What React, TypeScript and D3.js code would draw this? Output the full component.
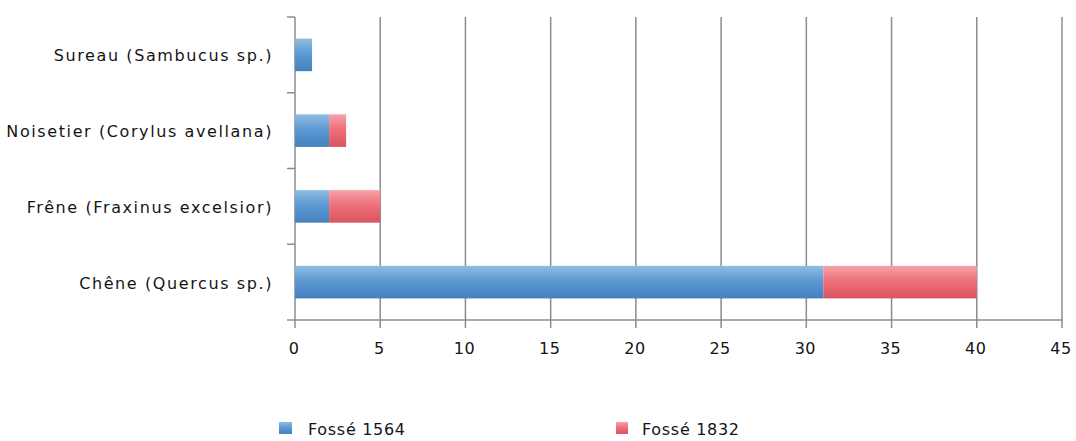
import React from "react";
import * as d3 from "d3";

// Charcoal fragment counts per taxon in the two ditches
const categories = [
  "Sureau (Sambucus sp.)",
  "Noisetier (Corylus avellana)",
  "Frêne (Fraxinus excelsior)",
  "Chêne (Quercus sp.)",
];
const fosse1564 = [1, 2, 2, 31];
const fosse1832 = [0, 1, 3, 9];
const seriesNames = ["Fossé 1564", "Fossé 1832"];
const xTicks = [0, 5, 10, 15, 20, 25, 30, 35, 40, 45];

const W = 1076;
const H = 441;
const FONT = "'DejaVu Sans', sans-serif";
const GRID = "#8c8c8c";
const TEXT = "#151515";

export default function App() {
  const x = d3.scaleLinear().domain([0, 45]).range([295, 1062]);
  const y = d3
    .scaleBand<string>()
    .domain(categories)
    .range([17, 320])
    .paddingInner(0.57)
    .paddingOuter(0.285);
  const step = y.step();
  const [y0, y1] = y.range();
  const boundaries = d3.range(categories.length + 1).map((i) => y0 + i * step);

  const stacked = categories.map((c, i) => ({
    cat: c,
    segs: [
      { key: "b", x0: 0, x1: fosse1564[i] },
      { key: "r", x0: fosse1564[i], x1: fosse1564[i] + fosse1832[i] },
    ],
  }));

  return (
    <svg
      width={W}
      height={H}
      style={{ position: "absolute", left: 0, top: 0, background: "#fff" }}
      fontFamily={FONT}
    >
      <defs>
        <linearGradient id="gBlue" x1="0" y1="0" x2="0" y2="1">
          <stop offset="0%" stopColor="#8fbde3" />
          <stop offset="45%" stopColor="#5e9ad2" />
          <stop offset="100%" stopColor="#4381bf" />
        </linearGradient>
        <linearGradient id="gRed" x1="0" y1="0" x2="0" y2="1">
          <stop offset="0%" stopColor="#f6a2a8" />
          <stop offset="45%" stopColor="#ee717b" />
          <stop offset="100%" stopColor="#d9545f" />
        </linearGradient>
      </defs>

      {/* vertical gridlines */}
      {xTicks.slice(1).map((t) => (
        <line key={t} x1={x(t)} x2={x(t)} y1={y0} y2={y1} stroke={GRID} strokeWidth={1.5} />
      ))}

      {/* x axis */}
      <line x1={x(0)} x2={x(45)} y1={y1} y2={y1} stroke={GRID} strokeWidth={1.5} />
      {xTicks.map((t) => (
        <g key={t}>
          <line x1={x(t)} x2={x(t)} y1={y1} y2={y1 + 8} stroke={GRID} strokeWidth={1.5} />
          <text
            x={x(t) - 1}
            y={348}
            textAnchor="middle"
            dominantBaseline="central"
            fontSize={16}
            letterSpacing={0.5}
            fill={TEXT}
          >
            {t}
          </text>
        </g>
      ))}

      {/* y axis */}
      <line x1={x(0)} x2={x(0)} y1={y0} y2={y1} stroke={GRID} strokeWidth={1.5} />
      {boundaries.map((b, i) => (
        <line key={i} x1={x(0) - 8} x2={x(0)} y1={b} y2={b} stroke={GRID} strokeWidth={1.5} />
      ))}
      {categories.map((c) => (
        <text
          key={c}
          x={273}
          y={(y(c) as number) + y.bandwidth() / 2 + 1}
          textAnchor="end"
          dominantBaseline="central"
          fontSize={16}
          letterSpacing={1.6}
          fill={TEXT}
        >
          {c}
        </text>
      ))}

      {/* stacked bars */}
      {stacked.map((s) => (
        <g key={s.cat}>
          {s.segs
            .filter((g) => g.x1 > g.x0)
            .map((g) => (
              <rect
                key={g.key}
                x={x(g.x0)}
                y={y(s.cat)}
                width={x(g.x1) - x(g.x0)}
                height={y.bandwidth()}
                fill={g.key === "b" ? "url(#gBlue)" : "url(#gRed)"}
              />
            ))}
        </g>
      ))}

      {/* legend */}
      <rect x={279} y={422} width={13} height={12} fill="url(#gBlue)" />
      <text x={308} y={429} dominantBaseline="central" fontSize={16} letterSpacing={0.7} fill={TEXT}>
        {seriesNames[0]}
      </text>
      <rect x={616} y={422} width={12} height={12} fill="url(#gRed)" />
      <text x={642} y={429} dominantBaseline="central" fontSize={16} letterSpacing={0.7} fill={TEXT}>
        {seriesNames[1]}
      </text>
    </svg>
  );
}
